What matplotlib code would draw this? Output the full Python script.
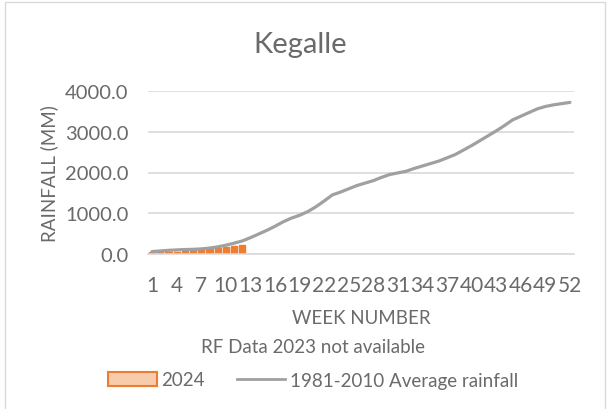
import matplotlib.pyplot as plt
from matplotlib.patches import Rectangle, Patch
from matplotlib.lines import Line2D
from matplotlib.ticker import FuncFormatter

weeks = list(range(1, 53))
avg_rain = [60, 75, 90, 100, 110, 115, 125, 145, 175, 215, 265, 320, 400, 490,
            580, 680, 790, 880, 950, 1040, 1160, 1300, 1450, 1520, 1600, 1680,
            1740, 1800, 1880, 1950, 1990, 2030, 2100, 2160, 2220, 2280, 2360,
            2440, 2550, 2660, 2780, 2900, 3020, 3150, 3290, 3380, 3470, 3560,
            3620, 3660, 3690, 3720]
weeks_2024 = list(range(1, 13))
rain_2024 = [40, 50, 55, 60, 70, 110, 120, 130, 140, 160, 200, 210]
tick_weeks = list(range(1, 53, 3))

TXT = '#6a6a6a'
GRID = '#d9d9d9'
plt.rcParams['font.family'] = ['Lato', 'DejaVu Sans']

fig = plt.figure(figsize=(6.08, 4.10), dpi=100)
ax = fig.add_axes([148 / 608, 1 - 255 / 410, 426 / 608, 163 / 410])

ax.bar(weeks_2024, rain_2024, width=0.75, color='#ed7d31', edgecolor='#ed7d31', zorder=2)
ax.plot(weeks, avg_rain, color='#a0a0a0', lw=2.3, zorder=3, solid_capstyle='round')

ax.set_xlim(0.5, 52.5)
ax.set_ylim(0, 4000)
ax.set_yticks([0, 1000, 2000, 3000, 4000])
ax.yaxis.set_major_formatter(FuncFormatter(lambda v, p: f'{v:.1f}'))
ax.set_xticks(tick_weeks)
ax.set_xticklabels([str(w) for w in tick_weeks])
ax.grid(axis='y', color=GRID, lw=1.2, zorder=0)
for s in ['top', 'right', 'left']:
    ax.spines[s].set_visible(False)
ax.spines['bottom'].set_color(GRID)
ax.spines['bottom'].set_linewidth(1.2)
ax.tick_params(axis='both', length=0, labelcolor=TXT)
ax.tick_params(axis='y', pad=14, labelsize=14.5)
ax.tick_params(axis='x', pad=15, labelsize=15)

ax.set_xlabel('WEEK NUMBER', fontsize=13.5, color=TXT, labelpad=10)
# y label placed by hand, closer to the numbers than labelpad allows
fig.text(49 / 608, 1 - 174 / 410, 'RAINFALL (MM)', rotation=90, ha='center', va='center',
         fontsize=13.5, color=TXT)
fig.text(300 / 608, 1 - 45 / 410, 'Kegalle', ha='center', va='center', fontsize=21, color=TXT)
fig.text(313 / 608, 1 - 348 / 410, 'RF Data 2023 not available', ha='center', va='center',
         fontsize=13.5, color=TXT)

handles = [Patch(facecolor='#f8cbad', edgecolor='#ed7d31', lw=1.5),
           Line2D([], [], color='#a0a0a0', lw=2)]
fig.legend(handles, ['2024', '1981-2010 Average rainfall'], loc='center',
           bbox_to_anchor=(313 / 608, 1 - 381 / 410), ncol=2, frameon=False,
           fontsize=13.5, labelcolor=TXT, handlelength=2.6, handleheight=0.8,
           handletextpad=0.25, columnspacing=1.7)

# thin chart-area border
fig.patches.append(Rectangle((5 / 608, -0.1), 600 / 608, 1.1 - 3 / 410, transform=fig.transFigure,
                             fill=False, edgecolor=GRID, lw=1))

fig.savefig('out.png', dpi=100)
